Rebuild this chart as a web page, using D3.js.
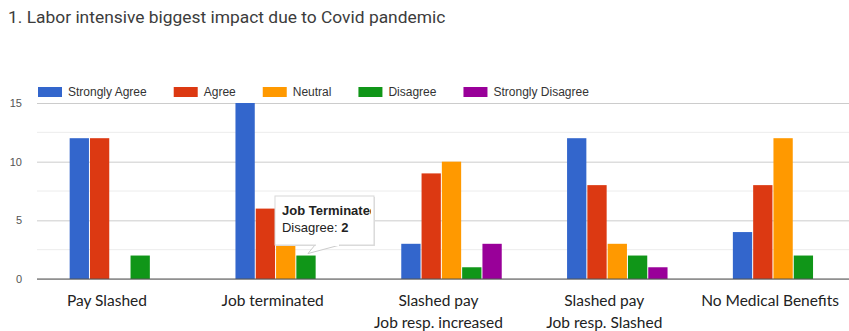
<!DOCTYPE html>
<html>
<head>
<meta charset="utf-8">
<script src="https://cdn.jsdelivr.net/npm/d3@7"></script>
<style>
  body { margin: 0; background: #fff; }
  svg { display: block; }
</style>
</head>
<body>
<div id="chart"></div>
<script>
const categories = [
  ["Pay Slashed"],
  ["Job terminated"],
  ["Slashed pay", "Job resp. increased"],
  ["Slashed pay", "Job resp. Slashed"],
  ["No Medical Benefits"],
];
const seriesNames = ["Strongly Agree", "Agree", "Neutral", "Disagree", "Strongly Disagree"];
const colors = ["#3366cc", "#dc3912", "#ff9900", "#109618", "#990099"];

const stronglyAgree = [12, 15, 3, 12, 4];
const agree = [12, 6, 9, 8, 8];
const neutral = [0, 3, 10, 3, 12];
const disagree = [2, 2, 1, 2, 2];
const stronglyDisagree = [0, 0, 3, 1, 0];
const yTicks = [0, 5, 10, 15];

const series = [stronglyAgree, agree, neutral, disagree, stronglyDisagree];

const w = 849;
const h = 331;

const svg = d3
  .select("#chart")
  .append("svg")
  .attr("width", w)
  .attr("height", h);

// title
svg
  .append("text")
  .attr("x", 8)
  .attr("y", 23)
  .attr("font-family", "Roboto")
  .attr("font-size", 17.4)
  .attr("fill", "#3c3c3c")
  .text("1. Labor intensive biggest impact due to Covid pandemic");

const catKeys = categories.map((c) => c.join(" / "));

const xScale = d3
  .scaleBand()
  .domain(catKeys)
  .range([37, 866])
  .paddingInner(0.388)
  .paddingOuter(0.194);

const xInner = d3
  .scaleBand()
  .domain(seriesNames)
  .range([0, xScale.bandwidth()]);

const yScale = d3.scaleLinear().domain([0, 15]).range([279, 103]);

// minor gridlines
svg
  .append("g")
  .selectAll("line")
  .data([2.5, 7.5, 12.5])
  .enter()
  .append("line")
  .attr("x1", 37)
  .attr("x2", w)
  .attr("y1", (d) => yScale(d))
  .attr("y2", (d) => yScale(d))
  .attr("stroke", "#ececec");

// y axis with major gridlines
const yAxis = d3
  .axisLeft(yScale)
  .tickValues(yTicks)
  .tickSize(-(w - 37))
  .tickPadding(15);

const yG = svg
  .append("g")
  .attr("transform", "translate(37,0)")
  .call(yAxis);

yG.select(".domain").remove();
yG.selectAll(".tick line").attr("stroke", "#cccccc");
yG.selectAll(".tick text")
  .attr("font-family", "Liberation Sans")
  .attr("font-size", 11)
  .attr("fill", "#555");

// bars
const groups = svg
  .append("g")
  .selectAll("g")
  .data(catKeys)
  .enter()
  .append("g")
  .attr("transform", (d) => "translate(" + xScale(d) + ",0)");

groups
  .selectAll("rect")
  .data((d, i) => series.map((s, j) => ({ name: seriesNames[j], value: s[i], color: colors[j] })))
  .enter()
  .append("rect")
  .attr("x", (d) => xInner(d.name) + 0.5)
  .attr("width", xInner.bandwidth() - 1)
  .attr("y", (d) => yScale(d.value))
  .attr("height", (d) => yScale(0) - yScale(d.value))
  .attr("fill", (d) => d.color);

// baseline
svg
  .append("line")
  .attr("x1", 37)
  .attr("x2", w)
  .attr("y1", yScale(0))
  .attr("y2", yScale(0))
  .attr("stroke", "#555");

// x labels
const labels = svg
  .append("g")
  .selectAll("text")
  .data(categories)
  .enter()
  .append("text")
  .attr("x", (d, i) => xScale(catKeys[i]) + xScale.bandwidth() / 2 - 13)
  .attr("y", 306)
  .attr("text-anchor", "middle")
  .attr("font-family", "Lato")
  .attr("font-size", 15.5)
  .attr("fill", "#222");

labels
  .selectAll("tspan")
  .data((d) => d)
  .enter()
  .append("tspan")
  .attr("x", function () {
    return this.parentNode.getAttribute("x");
  })
  .attr("dy", (d, i) => (i === 0 ? 0 : 22))
  .text((d) => d);

// legend
const legend = svg.append("g").attr("transform", "translate(38,92)");
let lx = 0;
seriesNames.forEach((name, i) => {
  const item = legend.append("g").attr("transform", "translate(" + lx + ",0)");
  item
    .append("rect")
    .attr("x", 0)
    .attr("y", -5)
    .attr("width", 24)
    .attr("height", 10)
    .attr("fill", colors[i]);
  const t = item
    .append("text")
    .attr("x", 30)
    .attr("y", 4)
    .attr("font-family", "Liberation Sans")
    .attr("font-size", 12)
    .attr("fill", "#333")
    .text(name);
  lx += 30 + t.node().getComputedTextLength() + 27;
});

// tooltip for Job terminated / Disagree
const tipIdx = 1;
const tipBar = {
  x: xScale(catKeys[tipIdx]) + xInner("Disagree") + xInner.bandwidth() / 2,
  y: yScale(disagree[tipIdx]),
};
const tip = svg.append("g");
const tipX = tipBar.x - 31;
const tipY = 196;
const tipW = 99;
const tipH = 49;

svg
  .append("defs")
  .append("clipPath")
  .attr("id", "tipclip")
  .append("rect")
  .attr("x", tipX)
  .attr("y", tipY)
  .attr("width", tipW - 3)
  .attr("height", tipH);

tip
  .append("rect")
  .attr("x", tipX + 1)
  .attr("y", tipY + 1)
  .attr("width", tipW)
  .attr("height", tipH)
  .attr("fill", "#ddd");
tip
  .append("path")
  .attr(
    "d",
    `M${tipBar.x + 2},${tipBar.y - 2} L${tipX + 40},${tipY + tipH} L${tipX + 65},${tipY + tipH} Z`
  )
  .attr("fill", "#fff")
  .attr("stroke", "#ccc");
tip
  .append("rect")
  .attr("x", tipX)
  .attr("y", tipY)
  .attr("width", tipW)
  .attr("height", tipH)
  .attr("fill", "#fff")
  .attr("stroke", "#d8d8d8");
tip
  .append("line")
  .attr("x1", tipX + 41)
  .attr("x2", tipX + 64)
  .attr("y1", tipY + tipH)
  .attr("y2", tipY + tipH)
  .attr("stroke", "#fff")
  .attr("stroke-width", 2);

const tipText = tip.append("g").attr("clip-path", "url(#tipclip)");
tipText
  .append("text")
  .attr("x", tipX + 7)
  .attr("y", tipY + 19)
  .attr("font-family", "Liberation Sans")
  .attr("font-size", 13)
  .attr("font-weight", "bold")
  .attr("fill", "#222")
  .text("Job Terminated");
const t2 = tipText
  .append("text")
  .attr("x", tipX + 7)
  .attr("y", tipY + 36)
  .attr("font-family", "Liberation Sans")
  .attr("font-size", 13)
  .attr("fill", "#222");
t2.append("tspan").text("Disagree: ");
t2.append("tspan").attr("font-weight", "bold").text(disagree[tipIdx]);
</script>
</body>
</html>
